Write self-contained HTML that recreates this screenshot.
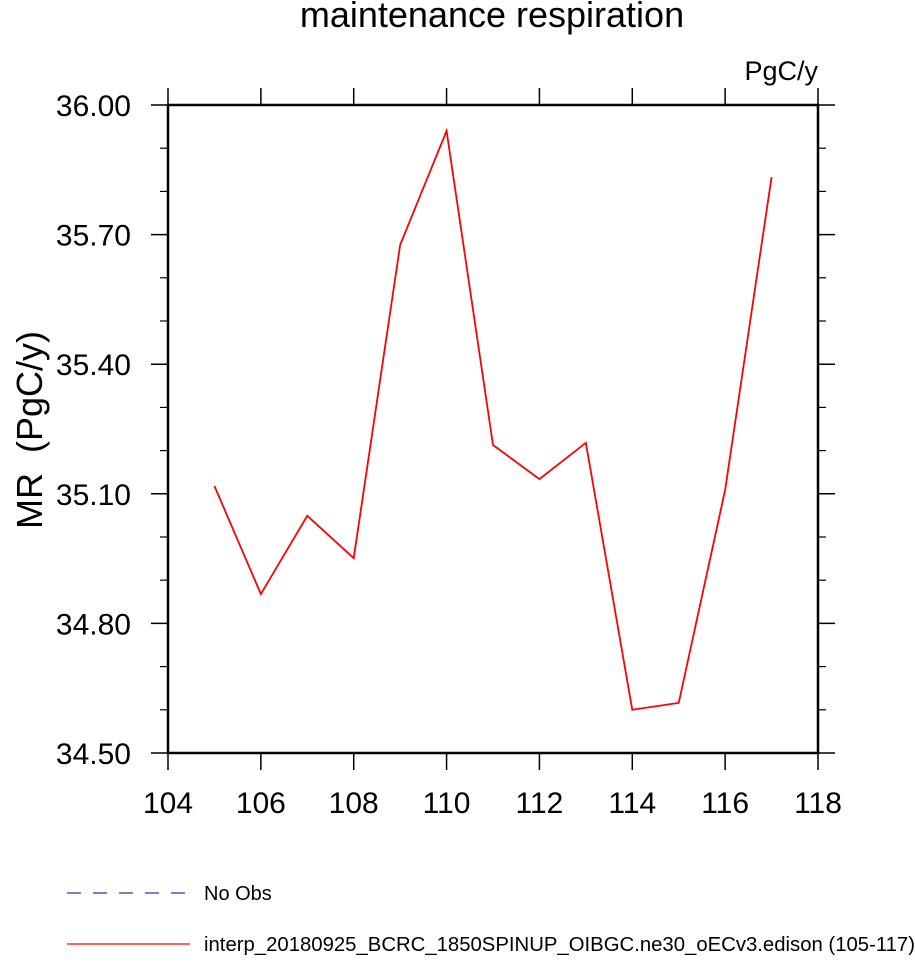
<!DOCTYPE html>
<html><head><meta charset="utf-8"><style>body{margin:0;background:#fff}svg text{font-family:"Liberation Sans",sans-serif}</style></head>
<body>
<svg id="c" width="915" height="957" xmlns="http://www.w3.org/2000/svg">
<text x="492" y="27" font-size="36" text-anchor="middle">maintenance respiration</text>
<text x="818" y="80" font-size="27" text-anchor="end">PgC/y</text>
<text transform="translate(42,430) rotate(-90)" font-size="36" text-anchor="middle" xml:space="preserve">MR  (PgC/y)</text>
<g id="ax"></g>
<line x1="67" y1="893" x2="190" y2="893" stroke="#3030c0" stroke-width="1.2" stroke-dasharray="14,12"/>
<text x="204" y="900" font-size="20">No Obs</text>
<line x1="67" y1="944" x2="190" y2="944" stroke="red" stroke-width="1.2"/>
<text x="204" y="951" font-size="20" textLength="711" lengthAdjust="spacingAndGlyphs">interp_20180925_BCRC_1850SPINUP_OIBGC.ne30_oECv3.edison (105-117)</text>
</svg>
<script>
const years=[105,106,107,108,109,110,111,112,113,114,115,116,117];
const values=[35.118,34.868,35.049,34.951,35.676,35.940,35.213,35.134,35.218,34.600,34.616,35.109,35.833];
const xTicks=[104,106,108,110,112,114,116,118];
const yTicks=[34.5,34.8,35.1,35.4,35.7,36.0];
const L=168,R=818,T=105,B=753,xmin=104,xmax=118,ymin=34.5,ymax=36;
const X=v=>L+(v-xmin)/(xmax-xmin)*(R-L);
const Y=v=>B-(v-ymin)/(ymax-ymin)*(B-T);
const g=document.getElementById('ax');const ns='http://www.w3.org/2000/svg';
function ln(x1,y1,x2,y2,w,c,n){const e=document.createElementNS(ns,'line');e.setAttribute('x1',x1);e.setAttribute('y1',y1);e.setAttribute('x2',x2);e.setAttribute('y2',y2);e.setAttribute('stroke',c||'#000');e.setAttribute('stroke-width',w);


g.appendChild(e);}
function tx(x,y,s,a,n){const e=document.createElementNS(ns,'text');e.setAttribute('x',x);e.setAttribute('y',y);e.setAttribute('font-size',30);e.setAttribute('text-anchor',a);e.textContent=s;


g.appendChild(e);}
xTicks.forEach(v=>{ln(X(v),T,X(v),T-17,1.5,'#000','x-tick');ln(X(v),B,X(v),B+17,1.5,'#000','x-tick');tx(X(v),813,String(v),'middle','x-tick-label');});
yTicks.forEach(v=>{ln(L,Y(v),L-17,Y(v),1.5,'#000','y-tick');ln(R,Y(v),R+17,Y(v),1.5,'#000','y-tick');tx(131,Y(v)+11,v.toFixed(2),'end','y-tick-label');});
for(let v=ymin+0.1;v<ymax-0.01;v+=0.1){if(Math.abs((v-ymin)/0.3-Math.round((v-ymin)/0.3))<0.01)continue;ln(L,Y(v),L-8,Y(v),1.2,'#000','y-minor-tick');ln(R,Y(v),R+8,Y(v),1.2,'#000','y-minor-tick');}
const f=document.createElementNS(ns,'rect');f.setAttribute('x',L);f.setAttribute('y',T);f.setAttribute('width',R-L);f.setAttribute('height',B-T);f.setAttribute('fill','none');f.setAttribute('stroke','#000');f.setAttribute('stroke-width',2.5);


g.appendChild(f);
const p=document.createElementNS(ns,'polyline');p.setAttribute('points',years.map((y,i)=>X(y)+','+Y(values[i])).join(' '));p.setAttribute('fill','none');p.setAttribute('stroke','red');p.setAttribute('stroke-width',1.8);


g.appendChild(p);
</script>
</body></html>
